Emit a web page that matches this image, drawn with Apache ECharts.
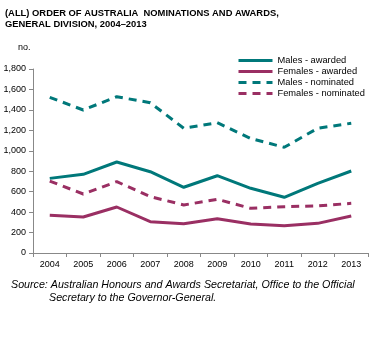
<!DOCTYPE html>
<html>
<head>
<meta charset="utf-8">
<script src="https://cdn.jsdelivr.net/npm/echarts@6/dist/echarts.min.js"></script>
<style>
html, body { margin: 0; padding: 0; background: #fff; }
#main { width: 372px; height: 339px; }
</style>
</head>
<body>
<div id="main"></div>
<script>
var years = ['2004', '2005', '2006', '2007', '2008', '2009', '2010', '2011', '2012', '2013'];
var malesAwarded = [730, 770, 890, 795, 643, 756, 633, 545, 682, 802];
var femalesAwarded = [369, 352, 450, 306, 287, 336, 284, 267, 290, 362];
var malesNominated = [1523, 1399, 1529, 1470, 1220, 1275, 1120, 1034, 1220, 1269];
var femalesNominated = [704, 577, 698, 551, 470, 525, 437, 453, 460, 486];

var teal = '#00787A';
var plum = '#9A2F63';
var font = 'Liberation Sans, Arial, sans-serif';

function line(name, data, color, dashed) {
    return {
        name: name,
        type: 'line',
        data: data,
        symbol: 'none',
        lineStyle: { color: color, width: 3, type: dashed ? [8, 6] : 'solid' },
        itemStyle: { color: color },
        animation: false
    };
}

var chart = echarts.init(document.getElementById('main'));
chart.setOption({
    animation: false,
    textStyle: { fontFamily: font },
    grid: { left: 33, right: 4, top: 69, bottom: 86 },
    legend: {
        orient: 'vertical',
        left: 232,
        top: 51,
        itemWidth: 34,
        itemHeight: 10,
        itemGap: 2,
        itemStyle: { opacity: 0 },
        lineStyle: { width: 3 },
        textStyle: { fontSize: 9.3, color: '#000', fontFamily: font },
        data: ['Males - awarded', 'Females - awarded', 'Males - nominated', 'Females - nominated']
    },
    xAxis: {
        type: 'category',
        data: years,
        boundaryGap: true,
        axisLine: { lineStyle: { color: '#888' } },
        axisTick: { show: true, length: 4, lineStyle: { color: '#888' } },
        axisLabel: { fontSize: 9, color: '#000', margin: 7, fontFamily: font }
    },
    yAxis: {
        type: 'value',
        min: 0,
        max: 1800,
        interval: 200,
        axisLine: { show: true, lineStyle: { color: '#888' } },
        axisTick: { show: true, length: 4, lineStyle: { color: '#888' } },
        splitLine: { show: false },
        axisLabel: {
            fontSize: 9, color: '#000', margin: 7, fontFamily: font,
            formatter: function (v) { return v.toLocaleString('en-US'); }
        }
    },
    graphic: [
        { type: 'text', left: 5, top: 8, style: { text: '(ALL) ORDER OF AUSTRALIA  NOMINATIONS AND AWARDS,\nGENERAL DIVISION, 2004\u20132013', font: 'bold 9.4px ' + font, fill: '#000', lineHeight: 11 } },
        { type: 'text', left: 18, top: 43, style: { text: 'no.', font: '9px ' + font, fill: '#000' } },
        { type: 'text', left: 11, top: 280, style: { text: 'Source: Australian Honours and Awards Secretariat, Office to the Official', font: 'italic 10.7px ' + font, fill: '#000' } },
        { type: 'text', left: 49, top: 293, style: { text: 'Secretary to the Governor-General.', font: 'italic 10.7px ' + font, fill: '#000' } }
    ],
    series: [
        line('Males - awarded', malesAwarded, teal, false),
        line('Females - awarded', femalesAwarded, plum, false),
        line('Males - nominated', malesNominated, teal, true),
        line('Females - nominated', femalesNominated, plum, true)
    ]
});
</script>
</body>
</html>
